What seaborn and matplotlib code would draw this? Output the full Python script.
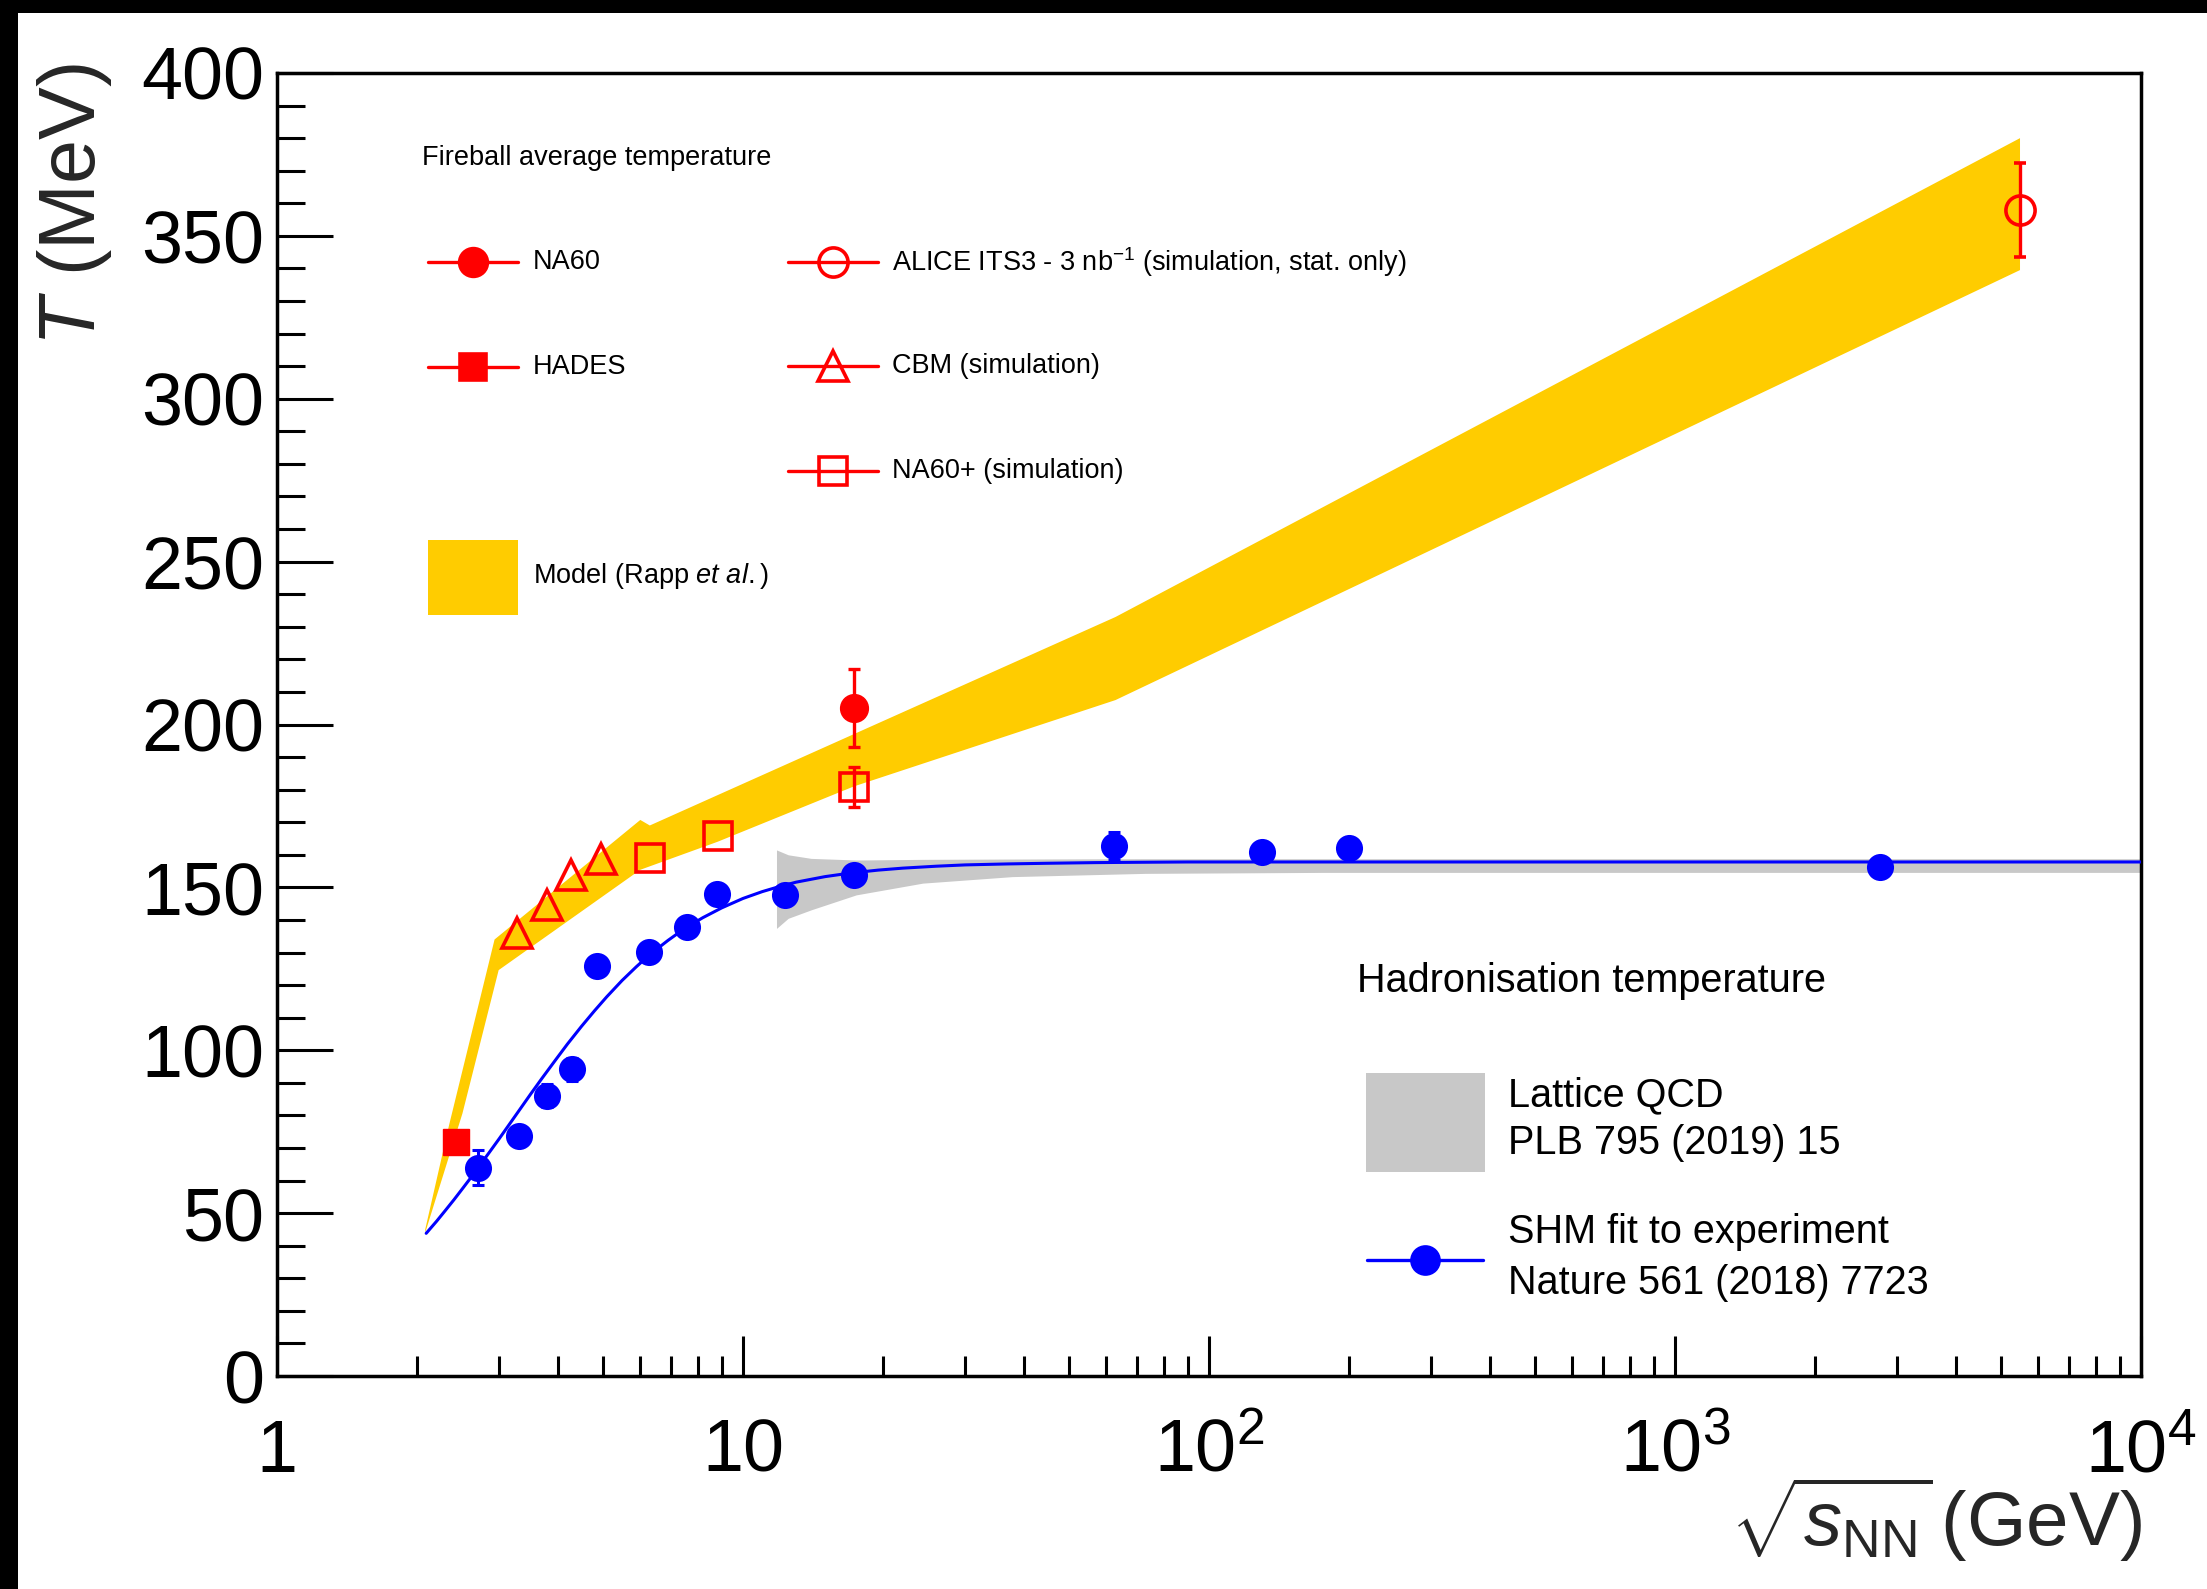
import numpy as np
import matplotlib
matplotlib.use("Agg")
import matplotlib.pyplot as plt
import matplotlib.transforms as mtransforms
from matplotlib.patches import Rectangle
from matplotlib.lines import Line2D
from matplotlib.ticker import FixedLocator, MultipleLocator, LogLocator, NullFormatter
import seaborn as sns

# ---------------- data ----------------
# SHM fit to experiment (hadronisation / chemical freeze-out temperature)
shm_sqrts = [2.7, 3.3, 3.8, 4.3, 4.85, 6.3, 7.6, 8.8, 12.3, 17.3, 62.4, 130, 200, 2760]
shm_T = [64.0, 73.8, 86.0, 94.2, 125.9, 130.1, 137.9, 147.9, 147.7, 153.8, 162.7, 161.0, 162.0, 156.4]
shm_err = [5.3, 2.5, 3.5, 3.5, 2.5, 2.5, 2.5, 2.5, 2.5, 2.5, 4.2, 3.0, 2.5, 1.5]

# SHM curve
shm_curve_sqrts = [2.09, 2.2, 2.3, 2.4, 2.5, 2.6, 2.7, 2.85, 3.0, 3.15, 3.3, 3.5, 3.7, 3.95,
                   4.2, 4.5, 4.8, 5.1, 5.5, 5.9, 6.3, 6.9, 7.5, 8.2, 9.0, 10, 11, 12, 13, 15,
                   17, 19.5, 22, 26, 30, 37, 45, 57, 70, 90, 120, 200, 500, 2000, 10000]
shm_curve_T = [43.8, 47.5, 50.9, 54.2, 57.5, 60.7, 63.9, 68.5, 72.9, 77.2, 81.3, 86.5, 91.3, 96.8,
               101.9, 107.3, 112.1, 116.4, 121.4, 125.6, 129.3, 133.7, 137.4, 140.7, 143.7, 146.6,
               148.7, 150.3, 151.6, 153.3, 154.4, 155.3, 155.9, 156.5, 156.9, 157.2, 157.4, 157.6,
               157.7, 157.8, 157.8, 157.8, 157.8, 157.8, 157.8]

# Lattice QCD pseudo-critical temperature band
lqcd_sqrts = [11.8, 12.5, 14.0, 17.5, 24.3, 37.8, 73.0, 177.0, 1000.0, 10000.0]
lqcd_lo = [137.4, 140.5, 143.1, 147.7, 151.3, 153.3, 154.3, 154.6, 154.6, 154.6]
lqcd_hi = [161.5, 160.0, 158.9, 158.4, 158.6, 158.7, 158.8, 158.8, 158.8, 158.8]

# Fireball model band (Rapp et al.)
rapp_up_sqrts = [2.08, 2.34, 2.93, 6.02, 6.31, 63.0, 5500.0]
rapp_up_T = [45.0, 77.0, 134.0, 170.7, 169.0, 233.0, 380.0]
rapp_lo_sqrts = [2.08, 2.5, 2.99, 6.02, 8.82, 17.3, 63.0, 5500.0]
rapp_lo_T = [44.0, 80.6, 124.6, 155.4, 164.0, 181.0, 207.5, 339.5]

# Fireball average temperature measurements / projections
na60_sqrts, na60_T, na60_err = [17.3], [205.0], [12.0]
hades_sqrts, hades_T = [2.42], [71.8]
alice_sqrts, alice_T, alice_err = [5500.0], [358.0], [14.5]
cbm_sqrts = [3.27, 3.8, 4.28, 4.96]
cbm_T = [135.9, 144.6, 153.8, 158.6]
na60p_sqrts = [6.32, 8.82, 17.3]
na60p_T = [158.9, 165.8, 180.9]
na60p_err = [0.0, 0.0, 6.2]

x_tick_vals = [1, 10, 100, 1000, 10000]
x_tick_labels = ["1", "10", r"$10^{2}$", r"$10^{3}$", r"$10^{4}$"]
y_tick_vals = [0, 50, 100, 150, 200, 250, 300, 350, 400]
y_tick_labels = [str(v) for v in y_tick_vals]

# ---------------- style ----------------
W, H, DPI = 2207, 1589, 100
YELLOW = "#ffcc00"
GREY = "#c8c8c8"
BLUE = "#0000ff"
RED = "#ff0000"

sns.set_theme(style="white")
plt.rcParams["font.family"] = ["Liberation Sans", "DejaVu Sans"]
plt.rcParams["mathtext.fontset"] = "custom"
plt.rcParams["mathtext.rm"] = "Liberation Sans"
plt.rcParams["mathtext.it"] = "Liberation Sans:italic"
plt.rcParams["mathtext.bf"] = "Liberation Sans:bold"

fig = plt.figure(figsize=(W / DPI, H / DPI), dpi=DPI)
fig.patch.set_facecolor("white")

AX_L, AX_R, AX_T, AX_B = 277, 2141, 73, 1376
ax = fig.add_axes([AX_L / W, 1 - AX_B / H, (AX_R - AX_L) / W, (AX_B - AX_T) / H])
ax.set_facecolor("white")
ax.set_xscale("log")
ax.set_xlim(1, 1e4)
ax.set_ylim(0, 400)

# pixel coordinates measured from the top-left corner of the figure
px = mtransforms.Affine2D().scale(1.0 / W, -1.0 / H).translate(0, 1) + fig.transFigure

# ---------------- bands ----------------
ax.fill(np.r_[rapp_up_sqrts, rapp_lo_sqrts[::-1]],
        np.r_[rapp_up_T, rapp_lo_T[::-1]],
        color=YELLOW, lw=0, zorder=1)
ax.fill_between(lqcd_sqrts, lqcd_lo, lqcd_hi, color=GREY, lw=0, zorder=1.5)

# ---------------- SHM curve and points ----------------
sns.lineplot(x=shm_curve_sqrts, y=shm_curve_T, ax=ax, color=BLUE, linewidth=2.2,
             estimator=None, zorder=3)
ax.errorbar(shm_sqrts, shm_T, yerr=shm_err, fmt="none", ecolor=BLUE,
            elinewidth=2.2, capsize=4.3, capthick=2.2, zorder=4)
MS = 19.5
sns.scatterplot(x=shm_sqrts, y=shm_T, ax=ax, s=MS ** 2, color=BLUE,
                edgecolor=BLUE, linewidth=0, zorder=5, legend=False)

# ---------------- fireball points ----------------
eb = dict(ecolor=RED, elinewidth=2.4, capsize=4.3, capthick=2.4, zorder=6)
ax.errorbar(hades_sqrts, hades_T, fmt="s", ms=19, color=RED, mec=RED, zorder=6)
ax.errorbar(na60_sqrts, na60_T, yerr=na60_err, fmt="o", ms=20, color=RED,
            mec=RED, **eb)
ax.errorbar(cbm_sqrts, cbm_T, fmt="^", ms=21, mfc="none", mec=RED, mew=2.6, zorder=6)
ax.errorbar(na60p_sqrts, na60p_T, fmt="s", ms=20, mfc="none", mec=RED, mew=2.6, zorder=6)
with_err = [i for i, e in enumerate(na60p_err) if e > 0]
ax.errorbar([na60p_sqrts[i] for i in with_err], [na60p_T[i] for i in with_err],
            yerr=[na60p_err[i] for i in with_err], fmt="none", **eb)
ax.errorbar(alice_sqrts, alice_T, yerr=alice_err, fmt="o", ms=21, mfc="none",
            mec=RED, mew=2.6, **eb)

# ---------------- axes, ticks ----------------
for s in ax.spines.values():
    s.set_color("black")
    s.set_linewidth(2.5)
    s.set_visible(True)

ax.xaxis.set_major_locator(FixedLocator(x_tick_vals))
ax.set_xticklabels(x_tick_labels)
ax.xaxis.set_minor_locator(LogLocator(base=10, subs=np.arange(2, 10), numticks=20))
ax.xaxis.set_minor_formatter(NullFormatter())
ax.yaxis.set_major_locator(FixedLocator(y_tick_vals))
ax.set_yticklabels(y_tick_labels)
ax.yaxis.set_minor_locator(MultipleLocator(10))

ax.tick_params(axis="both", which="both", direction="in", top=False, right=False,
               color="black", width=2.2, labelcolor="black")
ax.tick_params(axis="y", which="major", length=40, pad=9, labelsize=53, left=True)
ax.tick_params(axis="y", which="minor", length=20, left=True)
ax.tick_params(axis="x", which="major", length=29, pad=69, labelsize=53, bottom=True)
ax.tick_params(axis="x", which="minor", length=14.5, bottom=True)
for t in ax.xaxis.get_major_ticks():
    t.label1.set_verticalalignment("baseline")
ax.set_xlabel("")
ax.set_ylabel("")
ax.grid(False)

# axis titles
fig.text(74 / W, 1 - 63 / H, r"$T$ (MeV)", rotation=90, ha="center", va="top",
         fontsize=57)
fig.text(2142 / W, 1 - 1546 / H, r"$\sqrt{s_{\mathrm{NN}}}\,$(GeV)", ha="right",
         va="baseline", fontsize=55)

# ---------------- legends ----------------
def key_line(x0, x1, y, color, marker, ms, filled):
    fig.add_artist(Line2D([x0, x1], [y, y], transform=px, color=color, lw=2.4))
    fig.add_artist(Line2D([(x0 + x1) / 2], [y], transform=px, marker=marker, ms=ms,
                          mfc=color if filled else "none", mec=color, mew=2.6,
                          linestyle="none"))


def key_text(x, y, s, size):
    fig.text(x, y, s, transform=px, ha="left", va="center", fontsize=size, color="black")


F1 = 19.5
key_text(422, 158, "Fireball average temperature", F1)
key_line(428, 518, 262, RED, "o", 20, True)
key_text(533, 262, "NA60", F1)
key_line(428, 518, 367, RED, "s", 19, True)
key_text(533, 367, "HADES", F1)
fig.add_artist(Rectangle((428, 540), 90, 75, transform=px, color=YELLOW, lw=0))
key_text(533, 576, r"Model (Rapp $\mathit{et\ al.}$)", F1)
key_line(788, 878, 262, RED, "o", 21, False)
key_text(892, 262, r"ALICE ITS3 - 3 nb$^{-1}$ (simulation, stat. only)", F1)
key_line(788, 878, 366, RED, "^", 21, False)
key_text(892, 366, "CBM (simulation)", F1)
key_line(788, 878, 471, RED, "s", 20, False)
key_text(892, 471, "NA60+ (simulation)", F1)

F2 = 28.5
key_text(1357, 981, "Hadronisation temperature", F2)
fig.add_artist(Rectangle((1366, 1073), 119, 99, transform=px, color=GREY, lw=0))
key_text(1508, 1095, "Lattice QCD", F2)
key_text(1508, 1143, "PLB 795 (2019) 15", F2)
key_line(1367, 1483, 1260, BLUE, "o", MS, True)
key_text(1508, 1232, "SHM fit to experiment", F2)
key_text(1508, 1283, "Nature 561 (2018) 7723", F2)

# dark frame strips along the top and left edges
fig.add_artist(Rectangle((0, 0), W, 13, transform=px, color="black", lw=0))
fig.add_artist(Rectangle((0, 0), 18, H, transform=px, color="black", lw=0))

fig.savefig("out.png", dpi=DPI)
